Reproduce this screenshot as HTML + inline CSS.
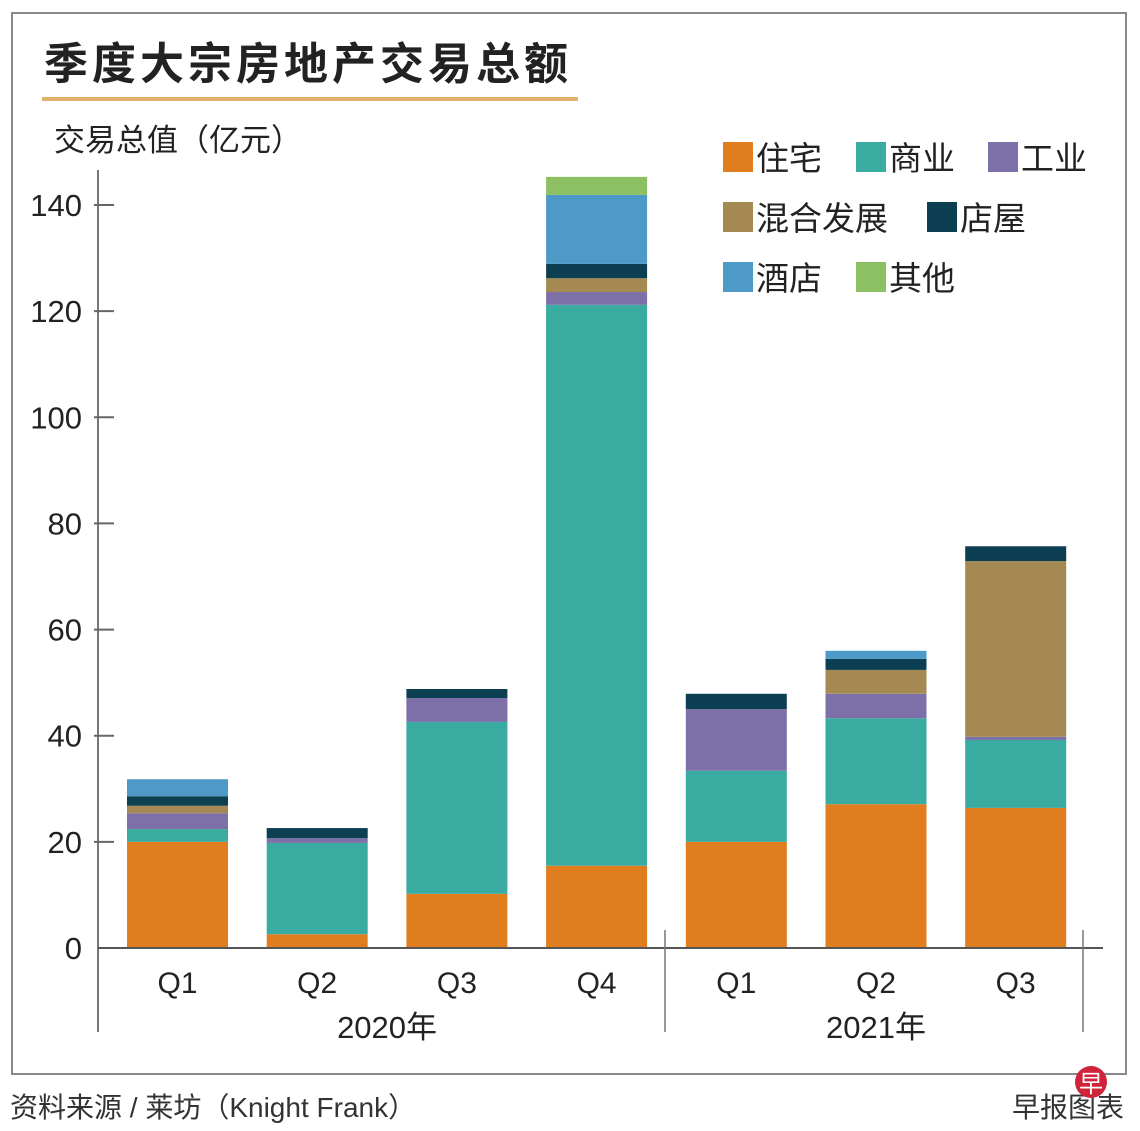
<!DOCTYPE html>
<html><head><meta charset="utf-8">
<style>
html,body{margin:0;padding:0;background:#fff;width:1140px;height:1131px;overflow:hidden}
svg text{font-family:"Liberation Sans","Noto Sans CJK SC",sans-serif}
</style></head>
<body>
<svg id="chart" width="1140" height="1131" viewBox="0 0 1140 1131" xmlns="http://www.w3.org/2000/svg">
<rect x="12" y="13" width="1114" height="1061" fill="#fff" stroke="#888" stroke-width="2"/>
<text x="44" y="79" font-size="44" font-weight="bold" fill="#222" letter-spacing="4" style="font-family:'Noto Sans CJK SC',sans-serif">季度大宗房地产交易总额</text>
<rect x="42" y="97" width="536" height="4" fill="#e3b16c"/>
<text x="54" y="151" font-size="31" fill="#222">交易总值（亿元）</text>
<g id="yaxis"></g>
<g id="bars"></g>
<g id="xaxis"></g>
<g id="legend"></g>
<text x="10" y="1117" font-size="28" fill="#333">资料来源 / 莱坊（Knight Frank）</text>
<text x="1124" y="1117" font-size="28" fill="#333" text-anchor="end">早报图表</text>
<circle cx="1091" cy="1082" r="16" fill="#d0243a"/>
<text x="1091" y="1092" font-size="24" fill="#fff" text-anchor="middle">早</text>
</svg>
<script>
const categories = ["Q1","Q2","Q3","Q4","Q1","Q2","Q3"];
const seriesNames = ["住宅","商业","工业","混合发展","店屋","酒店","其他"];
const seriesColors = ["#e07d1f","#3aaba0","#7d6fa8","#a48a52","#0d3f52","#4d9ac8","#8cc063"];
const residential = [20, 2.6, 10.2, 15.5, 20, 27.1, 26.4];
const commercial = [2.4, 17.2, 32.4, 105.7, 13.4, 16.2, 12.8];
const industrial = [3, 0.9, 4.5, 2.4, 11.6, 4.6, 0.6];
const mixed = [1.4, 0, 0, 2.6, 0, 4.5, 33.1];
const shophouse = [1.8, 1.9, 1.7, 2.7, 2.9, 2.1, 2.8];
const hotel = [3.2, 0, 0, 13, 0, 1.5, 0];
const other = [0, 0, 0, 3.4, 0, 0, 0];
const yTicks = [0,20,40,60,80,100,120,140];
const years = ["2020年","2021年"];
const yearSpans = [[0,3],[4,6]];

const NS="http://www.w3.org/2000/svg";
const y0=948, pxPer=(948-205)/140;
const yScale=v=>y0-v*pxPer;
const xStart=127, step=139.7, bw=101;
const xScale=i=>xStart+i*step;
function mk(tag,attrs,parent){const e=document.createElementNS(NS,tag);for(const k in attrs)e.setAttribute(k,attrs[k]);parent.appendChild(e);return e;}
const yG=document.getElementById('yaxis'), bG=document.getElementById('bars'), xG=document.getElementById('xaxis'), lG=document.getElementById('legend');

let ax=mk('line',{x1:98,y1:170,x2:98,y2:1032,stroke:'#777','stroke-width':2},yG);


yTicks.forEach(t=>{
  const y=yScale(t);
  if(t>0){const tk=mk('line',{x1:94,y1:y,x2:114,y2:y,stroke:'#666','stroke-width':2},yG);
  
  }
  const tx=mk('text',{x:82,y:y+11,'font-size':31,'text-anchor':'end',fill:'#222'},yG);
  tx.textContent=t;
  
  
});

const all=[residential,commercial,industrial,mixed,shophouse,hotel,other];
categories.forEach((c,i)=>{
  let acc=0;
  all.forEach((s,k)=>{
    const v=s[i]; if(!v) return;
    const r=mk('rect',{x:xScale(i),y:yScale(acc+v),width:bw,height:v*pxPer,fill:seriesColors[k]},bG);
    
    
    acc+=v;
  });
  const lb=mk('text',{x:xScale(i)+bw/2,y:993,'font-size':30,'text-anchor':'middle',fill:'#222'},xG);
  lb.textContent=c;
  
  
});
let xl=mk('line',{x1:98,y1:y0,x2:1103,y2:y0,stroke:'#555','stroke-width':2},xG);


[665,1083].forEach(x=>{
  const d=mk('line',{x1:x,y1:930,x2:x,y2:1032,stroke:'#777','stroke-width':1.5},xG);
  
  
});
years.forEach((yr,j)=>{
  const a=xScale(yearSpans[j][0]), b=xScale(yearSpans[j][1])+bw;
  const t=mk('text',{x:(a+b)/2,y:1038,'font-size':31,'text-anchor':'middle',fill:'#222'},xG);
  t.textContent=yr;
  
  
});

const legPos=[[723,142],[856,142],[988,142],[723,202],[927,202],[723,262],[856,262]];
seriesNames.forEach((n,k)=>{
  const [x,y]=legPos[k];
  const g=mk('g',{},lG);
  
  
  mk('rect',{x:x,y:y,width:30,height:30,fill:seriesColors[k]},g);
  const t=mk('text',{x:x+33,y:y+28,'font-size':33,fill:'#222'},g);
  t.textContent=n;
});
</script>
</body></html>
